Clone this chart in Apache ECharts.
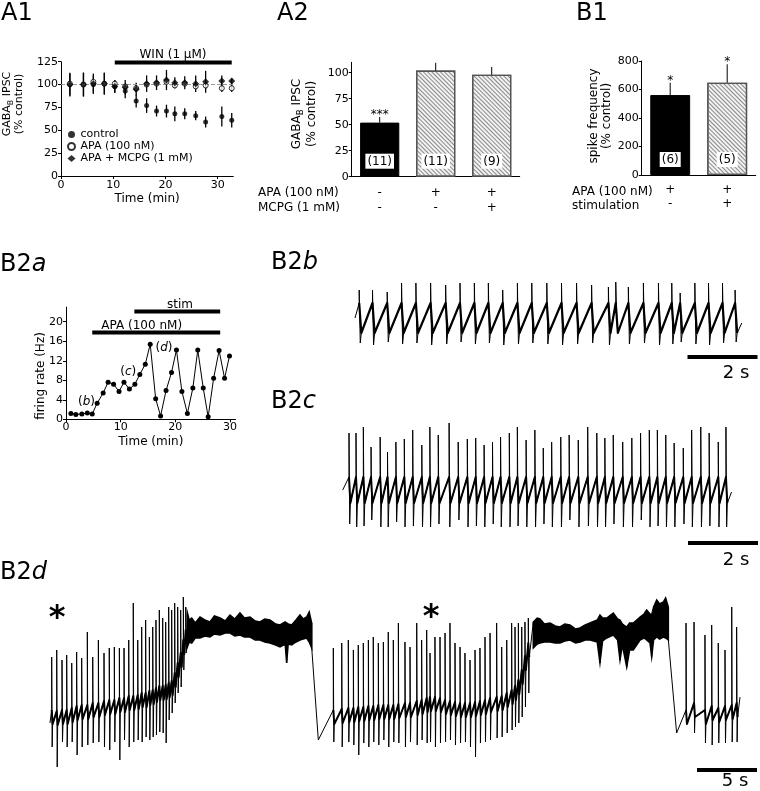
<!DOCTYPE html>
<html><head><meta charset="utf-8">
<script src="https://cdn.jsdelivr.net/npm/echarts@6/dist/echarts.min.js"></script>
<style>html,body{margin:0;padding:0;background:#fff}#c{width:760px;height:791px}</style>
</head><body><div id="c"></div>
<script>
// ---------------- DATA ----------------
// A1: GABA-B IPSC (% control) vs time (min)
const a1Time = [1.7,4.3,6.2,8.3,10.3,12.3,14.4,16.4,18.3,20.2,21.8,23.7,25.8,27.7,30.8,32.7];
const a1Control = [100,100,100,101,98,93,82,77,71,71,68,68,66,59,65,61];
const a1ControlErr = [12,13,10,12,7,8,7,8,6,7,8,6,5,6,11,8];
const a1Apa = [101,100,103,101,101,98,96,100,101,103,99,101,98,99,96,96];
const a1ApaErr = [3,3,3,3,3,3,4,3,3,3,3,3,3,4,4,4];
const a1ApaMcpg = [100,100,101,101,98,97,95,101,102,105,102,102,101,103,104,104];
const a1ApaMcpgErr = [13,13,11,12,7,8,7,9,8,11,6,7,9,12,6,3];
const a1Win = [10.3, 32.7, 124];           // WIN application: start, end (min), level
const a1TimeTicks = [0,10,20,30];
const a1YTicks = [0,25,50,75,100,125];
const a1Names = ['control','APA (100 nM)','APA + MCPG (1 mM)'];

// A2
const a2Cats = ['-\n-','+\n-','+\n+'];
const a2Values = [52, 102, 98];
const a2Err = [5.5, 7.5, 7.5];
const a2N = ['(11)','(11)','(9)'];
const a2Sig = ['***','',''];
const a2YTicks = [0,25,50,75,100];

// B1
const b1Cats = ['+\n-','+\n+'];
const b1Values = [561, 648];
const b1Err = [87, 129];
const b1N = ['(6)','(5)'];
const b1Sig = ['*','*'];
const b1YTicks = [0,200,400,600,800];

// B2a firing rate
const b2aTime = [0.9,1.8,2.9,3.9,4.8,5.7,6.8,7.7,8.7,9.7,10.6,11.6,12.6,13.5,14.5,15.4,16.4,17.3,18.3,19.3,20.2,21.2,22.2,23.2,24.1,25.1,26.0,27.0,28.0,29.0,29.9];
const b2aRate = [1.2,1.0,1.1,1.3,1.1,3.3,5.4,7.6,7.2,5.7,7.6,6.2,7.2,9.2,11.3,15.4,4.2,0.7,5.9,9.6,14.2,5.7,1.2,6.4,14.2,6.4,0.5,8.4,14.1,8.4,13.0];
const b2aBars = [[4.8, 28.2, 17.8], [12.5, 28.2, 22.1]]; // APA, stim
const b2aXTicks = [0,10,20,30];
const b2aYTicks = [0,4,8,12,16,20];

// B2b trace (time s, potential in arbitrary units)
const b2bSpikeT = [0.12,0.5,0.92,1.33,1.74,2.16,2.59,3.0,3.41,3.81,4.22,4.64,5.05,5.48,5.9,6.33,6.76,7.24,7.45,7.81,8.24,8.67,9.05,9.29,9.71,10.1,10.5,10.86];
const b2bPeak = [90,90,88,97,97,97,95,97,97,97,90,97,97,97,97,97,95,93,98,93,97,97,97,87,97,97,97,90];
const b2bTrough = [37,35,38,36,37,35,36,38,36,37,35,36,37,36,35,36,37,35,60,36,37,35,36,38,36,35,37,38];
const b2bBase = 62;
const b2bEnds = [[0, 62], [11.05, 57]];

// B2c trace
const b2cSpikeT = [0.18,0.38,0.59,0.81,1.07,1.28,1.52,1.76,2.0,2.26,2.49,2.73,3.04,3.3,3.56,3.8,4.04,4.28,4.51,4.76,4.99,5.24,5.49,5.73,5.97,6.23,6.47,6.73,7.0,7.26,7.49,7.73,8.0,8.26,8.51,8.76,8.99,9.23,9.47,9.73,9.97,10.23,10.47,10.73,10.95];
const b2cPeak = [127,127,133,113,123,108,118,121,130,115,133,125,137,118,121,122,115,118,123,127,133,120,130,112,118,123,125,120,133,127,122,125,118,122,127,130,130,125,117,112,130,133,127,118,133];
const b2cTrough = [36,33,34,40,33,33,38,33,34,33,33,36,33,40,33,34,33,36,33,33,34,33,33,36,33,33,40,33,34,33,33,36,33,33,40,33,34,33,33,36,33,33,34,33,33];
const b2cBase = 70;
const b2cEnds = [[0, 70], [11.11, 68]];

// B2d trace
const b2dASpikeT = [0.14,0.56,1.0,1.39,1.81,2.22,2.64,3.11,3.56,4.03,4.5,4.94,5.36,5.78,6.17,6.56,6.94,7.31,7.64,7.97,8.28,8.56,8.83,9.11,9.39,9.64,9.89,10.14,10.39,10.64,10.89,11.11,11.31];
const b2dAPeak = [133,140,130,135,127,138,132,158,133,150,137,142,143,142,142,150,187,150,163,170,153,163,170,180,172,168,183,180,187,183,180,193,183];
const b2dATrough = [43,23,48,43,48,35,43,45,47,48,43,40,48,30,50,43,48,50,48,53,50,53,55,58,57,47,70,77,87,97,103,120,137];
const b2dABase = [73,72,73,73,75,77,78,78,80,80,82,83,83,85,85,87,87,88,90,90,92,93,95,97,97,98,100,102,110,120,130,143,153];
const b2dP1T = [11.45,11.6,11.81,12.1,12.5,12.9,13.33,13.7,14.17,14.6,15.0,15.4,15.83,16.2,16.67,17.1,17.5,17.9,18.33,18.8,19.17,19.6,19.72,19.85,20.14,20.5,20.83,21.1,21.39,21.6,21.81];
const b2dP1Up = [177,170,172,167,173,170,168,174,172,169,175,171,177,172,173,169,168,171,170,166,165,168,167,166,165,170,175,171,173,178,167];
const b2dP1Low = [143,148,147,152,152,154,153,156,155,157,157,154,155,153,153,150,150,148,147,145,143,146,127,146,145,148,150,151,152,148,142];
const b2dBSpikeT = [23.61,24.31,24.86,25.28,25.69,26.11,26.53,26.94,27.36,27.78,28.19,28.61,29.03,29.58,30.0,30.56,30.97,31.39,31.67,32.08,32.5,32.92,33.33,33.75,34.17,34.58,35.0,35.42,35.83,36.25,36.67,37.22,37.64,38.06,38.47,38.75,39.03,39.31,39.58,39.86];
const b2dBPeak = [142,147,150,140,145,147,150,153,147,148,158,150,167,148,143,167,150,160,137,153,153,157,167,147,143,137,130,140,142,153,157,167,143,150,167,163,167,163,168,172];
const b2dBTrough = [48,43,48,45,35,47,43,48,45,50,43,48,47,43,48,45,50,47,48,43,47,48,50,45,47,48,43,33,47,48,50,52,53,57,60,63,67,73,83,97];
const b2dBBase = [73,74,75,75,76,76,77,77,78,78,78,78,79,80,80,82,83,85,86,86,85,83,82,81,80,80,80,81,82,83,85,86,87,90,93,97,103,113,127,140];
const b2dP2T = [40.28,40.6,40.83,41.2,41.67,42.1,42.5,42.9,43.33,43.8,44.17,44.6,45.0,45.6,45.83,46.05,46.39,46.94,47.3,47.5,47.7,48.06,48.3,48.61,49.17,49.5,49.72,50.0,50.14,50.3,50.56,50.8,51.11,51.3,51.53];
const b2dP2Up = [168,172,171,166,167,164,163,166,165,161,162,165,167,170,175,172,172,177,171,170,166,163,167,167,173,176,180,176,175,183,190,186,188,192,183];
const b2dP2Low = [142,146,147,148,148,147,147,149,150,147,148,150,150,148,127,149,152,155,150,130,145,123,140,140,150,152,150,147,133,150,153,151,153,152,150];
const b2dCSpikeT = [53.0,53.67,54.58,55.14,55.69,56.25,56.81,57.22];
const b2dCPeak = [167,168,155,165,147,140,183,163];
const b2dCTrough = [73,57,47,45,47,47,48,48];
const b2dCBase = [73,80,73,77,75,77,78,80];
const b2dStart = [0, 67];
const b2dDrops = [[22.36, 50], [52.22, 57]];
const b2dEnd = [57.5, 93];

// scale bars (s)
const scale2s = 2, scale5s = 5;

// ---------------- BUILD ----------------
const K = '#000';
const FONT = '"DejaVu Sans", sans-serif';

function train(T, P, R, B, a, dt) {
  const pts = [];
  for (let i = 0; i < T.length; i++) {
    const b = Array.isArray(B) ? B[i] : B;
    pts.push([T[i], b + a], [T[i], P[i]], [T[i] + dt, R[i]], [T[i] + 2 * dt, b - a]);
  }
  return pts;
}
function ramps(T, B, a, dt) {
  const pts = [];
  for (let i = 0; i < T.length; i++) {
    const b = Array.isArray(B) ? B[i] : B;
    pts.push([T[i], b + a], [T[i] + 2 * dt, b - a]);
  }
  return pts;
}
function zig(T, U, L) {
  const pts = [];
  T.forEach((t, i) => { pts.push([t, U[i]], [t, L[i]]); });
  return pts;
}
const RB = 15, RC = 13, RD = 7;
const b2bPath = [b2bEnds[0]].concat(train(b2bSpikeT, b2bPeak, b2bTrough, b2bBase, RB, 0.03), [b2bEnds[1]]);
const b2cPath = [b2cEnds[0]].concat(train(b2cSpikeT, b2cPeak, b2cTrough, b2cBase, RC, 0.02), [b2cEnds[1]]);
const b2dPath = [b2dStart].concat(
  train(b2dASpikeT, b2dAPeak, b2dATrough, b2dABase, RD, 0.04),
  zig(b2dP1T, b2dP1Up, b2dP1Low),
  [b2dDrops[0]],
  train(b2dBSpikeT, b2dBPeak, b2dBTrough, b2dBBase, RD, 0.04),
  zig(b2dP2T, b2dP2Up, b2dP2Low),
  [b2dDrops[1]],
  train(b2dCSpikeT, b2dCPeak, b2dCTrough, b2dCBase, RD, 0.04),
  [b2dEnd]
);
const b2dPlateaus = [[b2dP1T, b2dP1Up, b2dP1Low], [b2dP2T, b2dP2Up, b2dP2Low]];

// grids (A1, A2, B1, B2a, B2b, B2c, B2d)
const B2B_MAX = 11.5, B2C_MAX = 415.3 / 35, B2D_MAX = 707 / 12;
const grids = [
  {left: 61, top: 61.7, width: 172.3, height: 114.3},
  {left: 351.7, top: 62.3, width: 168, height: 114.4},
  {left: 641.7, top: 61, width: 114, height: 114},
  {left: 66, top: 307.1, width: 169.5, height: 112.2},
  {left: 355, top: 270, width: 402.5, height: 110},
  {left: 342.7, top: 410, width: 415.3, height: 150},
  {left: 50, top: 590, width: 707, height: 200}
].map(g => Object.assign({containLabel: false, outerBoundsMode: 'none', show: false}, g));

function vAxis(gi, min, max, ticks, margin, extra) {
  return Object.assign({
    type: 'value', gridIndex: gi, min: min, max: max,
    axisLine: {show: true, onZero: false, lineStyle: {color: K, width: 1}},
    axisTick: {show: true, length: 3, lineStyle: {color: K, width: 1}, customValues: ticks},
    axisLabel: {show: true, color: K, fontSize: 11, fontFamily: FONT, margin: margin, customValues: ticks},
    splitLine: {show: false}
  }, extra || {});
}
function cAxis(gi, cats, lh, margin) {
  return {
    type: 'category', gridIndex: gi, data: cats,
    axisLine: {show: true, onZero: false, lineStyle: {color: K, width: 1}},
    axisTick: {show: false},
    axisLabel: {color: K, fontSize: 12, fontFamily: FONT, lineHeight: lh, margin: margin},
    splitLine: {show: false}
  };
}
function hAxis(gi, min, max) { return {type: 'value', gridIndex: gi, min: min, max: max, show: false}; }

const nameStyle = {color: K, fontSize: 12, fontFamily: FONT};
const xAxes = [
  vAxis(0, 0, 33, a1TimeTicks, 4, {name: 'Time (min)', nameLocation: 'middle', nameGap: 17, nameTextStyle: nameStyle}),
  cAxis(1, a2Cats, 15, 9),
  cAxis(2, b1Cats, 14, 8),
  vAxis(3, 0, 31, b2aXTicks, 2, {name: 'Time (min)', nameLocation: 'middle', nameGap: 17, nameTextStyle: nameStyle}),
  hAxis(4, 0, B2B_MAX), hAxis(5, 0, B2C_MAX), hAxis(6, 0, B2D_MAX)
];
const yAxes = [
  vAxis(0, 0, 125, a1YTicks, 3),
  vAxis(1, 0, 110, a2YTicks, 3),
  vAxis(2, 0, 800, b1YTicks, 3),
  vAxis(3, 0, 23, b2aYTicks, 3),
  hAxis(4, 0, 110), hAxis(5, 0, 150), hAxis(6, 0, 200)
];

function errSeries(gi, xs, vals, errs) {
  return {
    type: 'custom', xAxisIndex: gi, yAxisIndex: gi, silent: true, z: 2,
    data: xs.map((x, i) => [x, vals[i] - errs[i], vals[i] + errs[i]]),
    renderItem: (p, api) => {
      const a = api.coord([api.value(0), api.value(1)]);
      const b = api.coord([api.value(0), api.value(2)]);
      return {type: 'line', shape: {x1: a[0], y1: a[1], x2: b[0], y2: b[1]}, style: {stroke: K, lineWidth: 1.3}};
    }
  };
}
function barErr(gi, vals, errs, sig) {
  return {
    type: 'custom', xAxisIndex: gi, yAxisIndex: gi, silent: true, z: 5,
    data: vals.map((v, i) => [i, v, v + errs[i]]),
    renderItem: (p, api) => {
      const a = api.coord([api.value(0), api.value(1)]);
      const b = api.coord([api.value(0), api.value(2)]);
      return {type: 'group', children: [
        {type: 'line', shape: {x1: a[0], y1: a[1], x2: b[0], y2: b[1]}, style: {stroke: K, lineWidth: 1}},
        {type: 'text', style: {text: sig[p.dataIndex], x: b[0], y: b[1] - 2, align: 'center', verticalAlign: 'middle', font: '12px ' + FONT, fill: K}}
      ]};
    }
  };
}
function hbar(gi, data) {
  return {
    type: 'custom', xAxisIndex: gi, yAxisIndex: gi, silent: true, z: 4,
    data: data,
    renderItem: (p, api) => {
      const a = api.coord([api.value(0), api.value(2)]);
      const b = api.coord([api.value(1), api.value(2)]);
      return {type: 'line', shape: {x1: a[0], y1: a[1], x2: b[0], y2: b[1]}, style: {stroke: K, lineWidth: 4}};
    }
  };
}
const SOLID = {color: '#000', borderColor: '#000', borderWidth: 1};
const HATCH = {color: '#f2f2f2', borderColor: '#555', borderWidth: 1.3,
  decal: {symbol: 'rect', symbolSize: 1, dashArrayX: [1, 0], dashArrayY: [1, 2], rotation: Math.PI / 4, color: '#8a8a8a'}};
function barSeries(gi, vals, ns) {
  return {
    type: 'bar', xAxisIndex: gi, yAxisIndex: gi, barWidth: '70%', silent: true, z: 3,
    data: vals.map((v, i) => ({value: v, itemStyle: i === 0 ? SOLID : HATCH})),
    label: {show: true, position: 'insideBottom', distance: 8, formatter: p => ns[p.dataIndex],
      backgroundColor: '#fff', padding: [2, 2, 1, 2], color: K, fontSize: 12, fontFamily: FONT, textBorderWidth: 0}
  };
}
function scaleBar(gi, max, len, y) {
  return {type: 'line', xAxisIndex: gi, yAxisIndex: gi, silent: true, symbol: 'none', showSymbol: false,
    data: [[max - len, y], [max, y]], lineStyle: {color: K, width: 4, cap: 'butt'}};
}
function trace(gi, path, w) {
  return {type: 'line', xAxisIndex: gi, yAxisIndex: gi, silent: true, symbol: 'none', showSymbol: false,
    data: path, lineStyle: {color: K, width: w || 1, join: 'round'}, z: 3, sampling: null, progressive: 0};
}

const series = [
  errSeries(0, a1Time, a1Control, a1ControlErr),
  errSeries(0, a1Time, a1Apa, a1ApaErr),
  errSeries(0, a1Time, a1ApaMcpg, a1ApaMcpgErr),
  {type: 'scatter', name: a1Names[0], xAxisIndex: 0, yAxisIndex: 0, symbol: 'circle', symbolSize: 5, z: 4,
    itemStyle: {color: K}, data: a1Time.map((t, i) => [t, a1Control[i]]),
    markLine: {silent: true, symbol: 'none', label: {show: false}, lineStyle: {color: '#999', type: 'dashed', width: 1}, data: [{yAxis: 100}]}},
  {type: 'scatter', name: a1Names[1], xAxisIndex: 0, yAxisIndex: 0, symbol: 'circle', symbolSize: 5, z: 5,
    itemStyle: {color: '#fff', borderColor: K, borderWidth: 1}, data: a1Time.map((t, i) => [t, a1Apa[i]])},
  {type: 'scatter', name: a1Names[2], xAxisIndex: 0, yAxisIndex: 0, symbol: 'diamond', symbolSize: 7, z: 6,
    itemStyle: {color: K}, data: a1Time.map((t, i) => [t, a1ApaMcpg[i]])},
  hbar(0, [a1Win]),
  barSeries(1, a2Values, a2N), barErr(1, a2Values, a2Err, a2Sig),
  barSeries(2, b1Values, b1N), barErr(2, b1Values, b1Err, b1Sig),
  {type: 'line', xAxisIndex: 3, yAxisIndex: 3, silent: true, symbol: 'circle', symbolSize: 5, showSymbol: true,
    lineStyle: {color: K, width: 1}, itemStyle: {color: K}, data: b2aTime.map((t, i) => [t, b2aRate[i]])},
  hbar(3, b2aBars),
  trace(4, b2bPath), trace(4, ramps(b2bSpikeT, b2bBase, RB, 0.03), 2.2), scaleBar(4, B2B_MAX, scale2s, 23),
  trace(5, b2cPath), trace(5, ramps(b2cSpikeT, b2cBase, RC, 0.02), 2), scaleBar(5, B2C_MAX, scale2s, 17),
  {type: 'custom', xAxisIndex: 6, yAxisIndex: 6, silent: true, z: 2, data: [[0], [1]],
    renderItem: (p, api) => {
      const [T, U, L] = b2dPlateaus[p.dataIndex];
      const pts = [];
      T.forEach((t, i) => pts.push(api.coord([t, U[i]])));
      for (let i = T.length - 1; i >= 0; i--) pts.push(api.coord([T[i], L[i]]));
      return {type: 'polygon', shape: {points: pts}, style: {fill: K, stroke: K, lineWidth: 1.5, lineJoin: 'miter'}};
    }},
  trace(6, b2dPath),
  trace(6, ramps(b2dASpikeT, b2dABase, RD, 0.04), 2),
  trace(6, ramps(b2dBSpikeT, b2dBBase, RD, 0.04), 2),
  trace(6, ramps(b2dCSpikeT, b2dCBase, RD, 0.04), 2),
  scaleBar(6, B2D_MAX, scale5s, 20)
];

function T(x, y, text, size, o) {
  o = o || {};
  return {type: 'text', x: x, y: y, rotation: o.rot || 0, silent: true,
    style: Object.assign({text: text, fill: K, font: (o.weight || '') + ' ' + size + 'px ' + FONT,
      fontSize: size, fontFamily: FONT, fontWeight: o.weight || 'normal',
      align: o.align || 'left', textAlign: o.align || 'left', verticalAlign: 'middle', textVerticalAlign: 'middle'},
      o.rich ? {rich: o.rich} : {}, o.lh ? {lineHeight: o.lh} : {})};
}
const panelRich = (s) => ({n: {fontSize: s, fontFamily: FONT, fill: K}, i: {fontSize: s, fontFamily: FONT, fontStyle: 'italic', fill: K}});
const subRich = (s, lh) => ({
  n: {fontSize: s, fontFamily: FONT, lineHeight: lh, verticalAlign: 'top'},
  s: {fontSize: s * 0.72, fontFamily: FONT, lineHeight: s * 0.72, verticalAlign: 'top', padding: [s * 0.45, 0, 0, 0]}
});
const italRich = {n: {fontSize: 12, fontFamily: FONT}, i: {fontSize: 12, fontFamily: FONT, fontStyle: 'italic'}};

const graphics = [
  T(1, 14, '{n|A1}', 24, {rich: panelRich(24)}),
  T(277, 14, '{n|A2}', 24, {rich: panelRich(24)}),
  T(576, 14, '{n|B1}', 24, {rich: panelRich(24)}),
  T(0, 265, '{n|B2}{i|a}', 24, {rich: panelRich(24)}),
  T(271, 263, '{n|B2}{i|b}', 24, {rich: panelRich(24)}),
  T(271, 402, '{n|B2}{i|c}', 24, {rich: panelRich(24)}),
  T(0, 573, '{n|B2}{i|d}', 24, {rich: panelRich(24)}),
  // y-axis titles
  T(14, 104, '{n|GABA}{s|B}{n| IPSC}\n{n|(% control)}', 11, {rot: Math.PI / 2, align: 'center', rich: subRich(11, 12.5)}),
  T(306, 114, '{n|GABA}{s|B}{n| IPSC}\n{n|(% control)}', 12, {rot: Math.PI / 2, align: 'center', rich: subRich(12, 15)}),
  T(600, 116, 'spike frequency\n(% control)', 12, {rot: Math.PI / 2, align: 'center', lh: 13}),
  T(41, 376, 'firing rate (Hz)', 12, {rot: Math.PI / 2, align: 'center'}),
  // annotations
  T(173, 55, 'WIN (1 μM)', 12, {align: 'center'}),
  T(141.7, 326, 'APA (100 nM)', 12, {align: 'center'}),
  T(180, 305, 'stim', 12, {align: 'center'}),
  T(86.5, 402, '{n|(}{i|b}{n|)}', 12, {align: 'center', rich: italRich}),
  T(128.3, 372, '{n|(}{i|c}{n|)}', 12, {align: 'center', rich: italRich}),
  T(164, 348, '{n|(}{i|d}{n|)}', 12, {align: 'center', rich: italRich}),
  // row labels
  T(258, 193, 'APA (100 nM)', 12), T(258, 208, 'MCPG (1 mM)', 12),
  T(572, 192, 'APA (100 nM)', 12), T(572, 206, 'stimulation', 12),
  // scale bar labels
  T(736, 373.5, '2 s', 18, {align: 'center'}),
  T(736, 560, '2 s', 18, {align: 'center'}),
  T(735, 781, '5 s', 18, {align: 'center'}),
  // stimulus asterisks
  T(57, 619, '*', 32, {align: 'center', weight: 'bold'}),
  T(431, 618, '*', 32, {align: 'center', weight: 'bold'})
];

const option = {
  animation: false,
  textStyle: {fontFamily: FONT, color: K},
  tooltip: {show: false},
  legend: {show: true, orient: 'vertical', left: 67, top: 129, itemWidth: 8, itemHeight: 7, itemGap: 1, padding: 0,
    selectedMode: false, data: a1Names, textStyle: {fontSize: 11, fontFamily: FONT, color: K, padding: [0, 0, 0, 0]}},
  grid: grids, xAxis: xAxes, yAxis: yAxes, series: series,
  graphic: {elements: graphics}
};
const chart = echarts.init(document.getElementById('c'), null, {renderer: 'canvas', width: 760, height: 791});
chart.setOption(option);
</script></body></html>
